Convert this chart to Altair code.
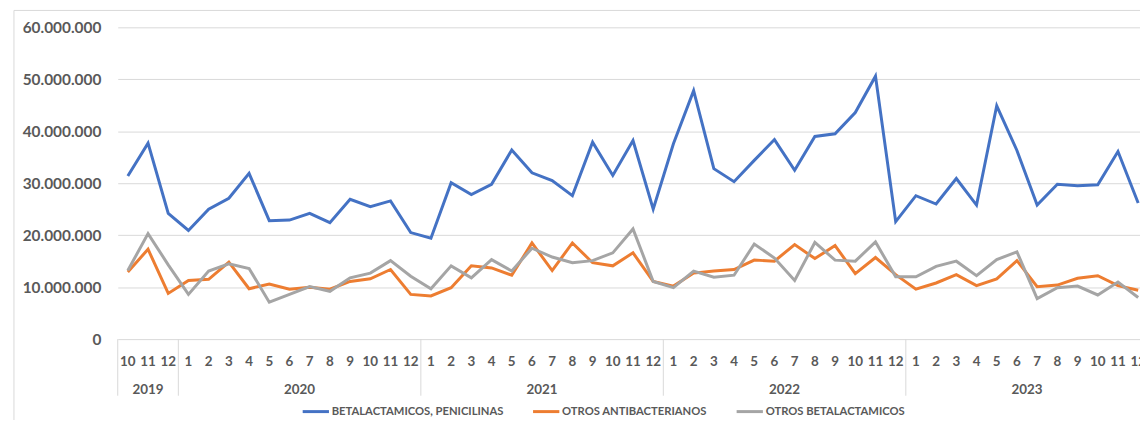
import altair as alt
import pandas as pd

# ---- data ----
months = [10, 11, 12] + list(range(1, 13)) * 4
years = [2019] * 3 + [2020] * 12 + [2021] * 12 + [2022] * 12 + [2023] * 12

betalactamicos_penicilinas = [
    31.4, 37.7, 24.2,
    20.9, 25.0, 27.1, 31.9, 22.8, 22.9, 24.2, 22.4, 26.9, 25.5, 26.6, 20.5,
    19.4, 30.1, 27.8, 29.8, 36.4, 32.0, 30.5, 27.6, 37.9, 31.5, 38.2, 25.0,
    37.6, 47.8, 32.8, 30.3, 34.4, 38.4, 32.5, 39.0, 39.5, 43.6, 50.6, 22.6,
    27.6, 26.0, 30.9, 25.8, 44.9, 36.3, 25.8, 29.8, 29.5, 29.7, 36.1, 26.2,
]
otros_antibacterianos = [
    12.9, 17.3, 8.8,
    11.3, 11.5, 14.8, 9.7, 10.6, 9.6, 10.0, 9.6, 11.1, 11.6, 13.4, 8.6,
    8.3, 9.9, 14.1, 13.7, 12.3, 18.5, 13.2, 18.5, 14.7, 14.1, 16.6, 11.1,
    10.2, 12.7, 13.1, 13.4, 15.2, 15.0, 18.2, 15.5, 18.0, 12.6, 15.7, 12.4,
    9.6, 10.8, 12.4, 10.3, 11.6, 15.1, 10.1, 10.4, 11.7, 12.2, 10.3, 9.4,
]
otros_betalactamicos = [
    13.2, 20.3, 14.3,
    8.6, 13.1, 14.5, 13.6, 7.1, 8.6, 10.1, 9.2, 11.8, 12.7, 15.1, 12.1,
    9.7, 14.1, 11.8, 15.3, 13.1, 17.5, 15.8, 14.7, 15.1, 16.6, 21.2, 11.1,
    9.9, 13.1, 11.9, 12.3, 18.3, 15.6, 11.3, 18.6, 15.2, 15.0, 18.7, 12.0,
    12.0, 14.0, 15.0, 12.2, 15.3, 16.8, 7.8, 9.9, 10.2, 8.5, 11.0, 8.0,
]

series_names = ["BETALACTAMICOS, PENICILINAS", "OTROS ANTIBACTERIANOS", "OTROS BETALACTAMICOS"]
series_colors = ["#4472C4", "#ED7D31", "#A5A5A5"]
y_ticks = [0, 10_000_000, 20_000_000, 30_000_000, 40_000_000, 50_000_000, 60_000_000]

# ---- tables ----
idx = list(range(len(months)))
rows = []
for name, vals in zip(series_names, [betalactamicos_penicilinas, otros_antibacterianos, otros_betalactamicos]):
    for i, v in zip(idx, vals):
        rows.append({"i": i, "serie": name, "valor": v * 1_000_000})
df = pd.DataFrame(rows)

labels_df = pd.DataFrame({"i": idx, "mes": [str(m) for m in months], "anio": years})
year_df = labels_df.groupby("anio").agg(imin=("i", "min"), imax=("i", "max")).reset_index()
year_df["centro"] = (year_df["imin"] + year_df["imax"]) / 2
year_df["anio"] = year_df["anio"].astype(str)
year_df["imin"] = year_df["imin"].astype(float)
year_df["imax"] = year_df["imax"].astype(float)
sep_df = pd.DataFrame({"b": [float(v) - 0.5 for v in year_df["imin"]]})

TXT = "#595959"
GRID = "#D9D9D9"
FONT = "Lato"

xscale = alt.Scale(domain=[-0.5, 50.09], nice=False, zero=False)
W, H = 1029.5, 314

lines = alt.Chart(df).mark_line(strokeWidth=3).encode(
    x=alt.X("i:Q", scale=xscale, axis=None),
    y=alt.Y(
        "valor:Q",
        scale=alt.Scale(domain=[0, 60_000_000], nice=False),
        axis=alt.Axis(
            values=y_ticks,
            labelExpr="join(split(format(datum.value, ','), ','), '.')",
            title=None, domain=False, ticks=False, labelPadding=17,
            labelFont=FONT, labelFontSize=15.5, labelFontWeight="bold", labelColor=TXT,
            gridColor=GRID, gridWidth=1,
        ),
    ),
    color=alt.Color(
        "serie:N",
        scale=alt.Scale(domain=series_names, range=series_colors),
        legend=alt.Legend(
            title=None, orient="none", direction="horizontal", legendX=184.5, legendY=372,
            symbolType="stroke", symbolSize=700, symbolStrokeWidth=3, labelOffset=1,
            labelFont=FONT, labelFontSize=11.3, labelFontWeight="bold", labelColor=TXT,
            labelLimit=400, columnPadding=23,
        ),
    ),
)

month_text = alt.Chart(labels_df).mark_text(
    font=FONT, fontSize=13.5, fontWeight="bold", color=TXT, baseline="middle", align="center"
).encode(x=alt.X("i:Q", scale=xscale, axis=None), y=alt.value(337), text="mes:N")

year_text = alt.Chart(year_df).mark_text(
    font=FONT, fontSize=13.5, fontWeight="bold", color=TXT, baseline="middle", align="center"
).encode(x=alt.X("centro:Q", scale=xscale, axis=None), y=alt.value(365), text="anio:N")

separators = alt.Chart(sep_df).mark_rule(color=GRID, strokeWidth=1).encode(
    x=alt.X("b:Q", scale=xscale, axis=None), y=alt.value(314), y2=alt.value(371)
)

frame = alt.Chart(sep_df.head(1)).mark_rect(fill="transparent", stroke=GRID, strokeWidth=1).encode(
    x=alt.value(-104.5), x2=alt.value(1100), y=alt.value(-17), y2=alt.value(500)
)

chart = alt.layer(frame, separators, lines, month_text, year_text).properties(
    width=W, height=H,
    autosize=alt.AutoSizeParams(type="none"),
    padding={"left": 110.5, "top": 18, "right": 0, "bottom": 80},
).configure_view(stroke=None)

chart.save("out.html", embed_options={"renderer": "svg", "actions": False})
